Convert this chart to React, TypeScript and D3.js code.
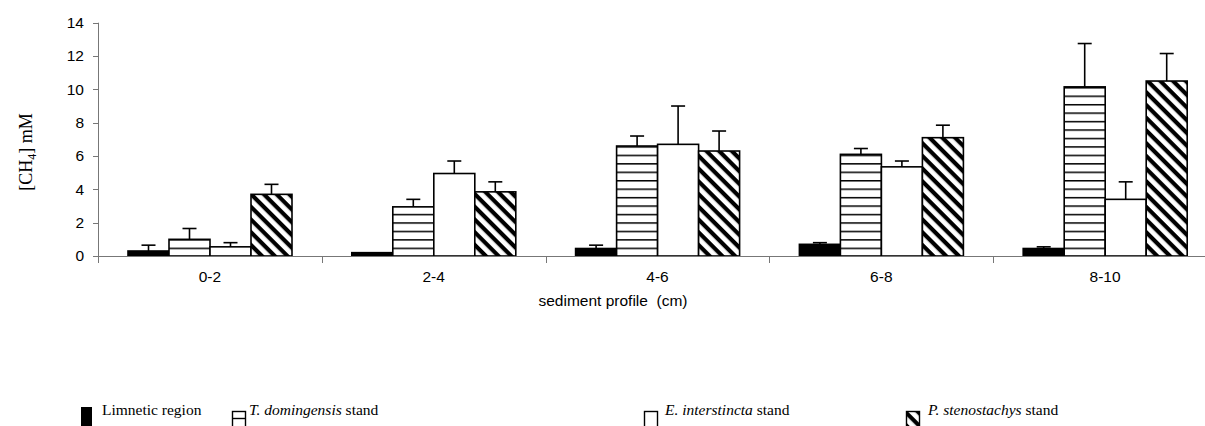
import React, { useRef, useEffect } from 'react';
import * as d3 from 'd3';

const categories = ['0-2', '2-4', '4-6', '6-8', '8-10'];
const seriesNames = ['Limnetic region', 'T. domingensis stand', 'E. interstincta stand', 'P. stenostachys stand'];

// mean [CH4] mM per depth
const limnetic = [0.3, 0.2, 0.45, 0.7, 0.45];
const typha = [1.0, 2.95, 6.6, 6.1, 10.15];
const eleocharis = [0.55, 4.95, 6.7, 5.35, 3.4];
const panicum = [3.7, 3.85, 6.3, 7.1, 10.5];

// standard deviations (upper bars only)
const limneticSd = [0.35, 0, 0.2, 0.1, 0.1];
const typhaSd = [0.65, 0.45, 0.6, 0.35, 2.6];
const eleocharisSd = [0.25, 0.75, 2.3, 0.35, 1.05];
const panicumSd = [0.6, 0.6, 1.2, 0.75, 1.65];

const yTicks = [0, 2, 4, 6, 8, 10, 12, 14];

const W = 1205;
const H = 426;

function Chart() {
  const svgRef = useRef<SVGSVGElement>(null);

  useEffect(() => {
    const svg = d3.select(svgRef.current);
    svg.selectAll('*').remove();

    const means = [limnetic, typha, eleocharis, panicum];
    const sds = [limneticSd, typhaSd, eleocharisSd, panicumSd];
    const fills = ['#000', 'url(#horiz)', '#fff', 'url(#diag)'];

    const x0 = d3.scaleBand().domain(categories).range([98, 98 + 5 * 223.8]).padding(0);
    const x1 = d3.scaleBand<number>().domain([0, 1, 2, 3]).range([30, 194]).padding(0);
    const y = d3.scaleLinear().domain([0, 14]).range([256, 22.7]);

    // patterns
    const defs = svg.append('defs');
    const ph = defs.append('pattern')
      .attr('id', 'horiz')
      .attr('patternUnits', 'userSpaceOnUse')
      .attr('width', 8)
      .attr('height', 8.45)
      .attr('y', 256 - 7.7 - 0.7);
    ph.append('rect').attr('width', 8).attr('height', 8.45).attr('fill', '#fff');
    ph.append('rect').attr('y', 0).attr('width', 8).attr('height', 1.5).attr('fill', '#000');

    const pd = defs.append('pattern')
      .attr('id', 'diag')
      .attr('patternUnits', 'userSpaceOnUse')
      .attr('width', 9)
      .attr('height', 9)
      .attr('patternTransform', 'rotate(45)');
    pd.append('rect').attr('width', 9).attr('height', 9).attr('fill', '#fff');
    pd.append('rect').attr('width', 9).attr('height', 4.2).attr('fill', '#000');

    // y axis
    const axisColor = '#777';
    svg.append('line')
      .attr('x1', 98.5).attr('x2', 98.5)
      .attr('y1', y(14)).attr('y2', 263)
      .attr('stroke', axisColor).attr('stroke-width', 1);

    const yt = svg.append('g');
    yt.selectAll('line').data(yTicks).enter().append('line')
      .attr('x1', 93).attr('x2', 98.5)
      .attr('y1', d => Math.round(y(d)) + 0.5).attr('y2', d => Math.round(y(d)) + 0.5)
      .attr('stroke', axisColor);
    yt.selectAll('text').data(yTicks).enter().append('text')
      .attr('x', 84).attr('y', d => y(d))
      .attr('dy', '0.35em')
      .attr('text-anchor', 'end')
      .attr('font-family', 'Liberation Sans, Arial, sans-serif')
      .attr('font-size', 15.5)
      .text(d => d);

    // category ticks
    svg.selectAll('.ctick').data(categories.slice(1)).enter().append('line')
      .attr('class', 'ctick')
      .attr('x1', d => Math.round(x0(d)!) + 0.5).attr('x2', d => Math.round(x0(d)!) + 0.5)
      .attr('y1', 256).attr('y2', 263)
      .attr('stroke', axisColor);

    // bars
    const groups = svg.selectAll('.grp').data(categories).enter().append('g')
      .attr('class', 'grp')
      .attr('transform', d => `translate(${x0(d)},0)`);

    means.forEach((vals, s) => {
      groups.append('rect')
        .attr('x', () => x1(s)!)
        .attr('y', (_d, i) => y(vals[i]))
        .attr('width', x1.bandwidth())
        .attr('height', (_d, i) => y(0) - y(vals[i]))
        .attr('fill', fills[s])
        .attr('stroke', '#000')
        .attr('stroke-width', 1.6);
    });

    means.forEach((vals, s) => {
      const cx = x1(s)! + x1.bandwidth() / 2;
      groups.each(function (_d, i) {
        if (sds[s][i] <= 0) return;
        const g = d3.select(this);
        const top = y(vals[i] + sds[s][i]);
        g.append('line')
          .attr('x1', cx).attr('x2', cx)
          .attr('y1', y(vals[i])).attr('y2', top)
          .attr('stroke', '#000').attr('stroke-width', 1.6);
        g.append('line')
          .attr('x1', cx - 7).attr('x2', cx + 7)
          .attr('y1', top).attr('y2', top)
          .attr('stroke', '#000').attr('stroke-width', 1.6);
      });
    });

    // x axis line
    svg.append('line')
      .attr('x1', 98).attr('x2', W)
      .attr('y1', 256.5).attr('y2', 256.5)
      .attr('stroke', axisColor);

    // category labels
    svg.selectAll('.clab').data(categories).enter().append('text')
      .attr('class', 'clab')
      .attr('x', d => x0(d)! + x0.bandwidth() / 2)
      .attr('y', 282)
      .attr('text-anchor', 'middle')
      .attr('font-family', 'Liberation Sans, Arial, sans-serif')
      .attr('font-size', 15.5)
      .text(d => d);

    svg.append('text')
      .attr('x', 613).attr('y', 306)
      .attr('text-anchor', 'middle')
      .attr('font-family', 'Liberation Sans, Arial, sans-serif')
      .attr('font-size', 15.5)
      .style('white-space', 'pre')
      .text('sediment profile  (cm)');

    // y title
    const yl = svg.append('text')
      .attr('transform', 'translate(32,152) rotate(-90)')
      .attr('text-anchor', 'middle')
      .attr('font-family', 'Liberation Serif, Times New Roman, serif')
      .attr('font-size', 18);
    yl.append('tspan').text('[CH');
    yl.append('tspan').attr('font-size', 12).attr('dy', 4).text('4');
    yl.append('tspan').attr('dy', -4).text('] mM');

    // legend (symbols run off the bottom edge, as in the original)
    const legX = [81, 232, 644, 906];
    const textX = [102, 249, 665, 928];
    const lg = svg.append('g');
    seriesNames.forEach((name, s) => {
      if (s === 0) {
        lg.append('rect').attr('x', legX[s]).attr('y', 407).attr('width', 11).attr('height', 22).attr('fill', '#000');
      } else {
        lg.append('rect').attr('x', legX[s] + 0.5).attr('y', 411.5).attr('width', 13).attr('height', 20)
          .attr('fill', s === 3 ? 'url(#diag)' : '#fff')
          .attr('stroke', '#000').attr('stroke-width', 1.4);
        if (s === 1) {
          lg.append('line').attr('x1', legX[s]).attr('x2', legX[s] + 14)
            .attr('y1', 418.5).attr('y2', 418.5).attr('stroke', '#000').attr('stroke-width', 1.4);
        }
      }
      const t = lg.append('text')
        .attr('x', textX[s]).attr('y', 415)
        .attr('font-family', 'Liberation Serif, Times New Roman, serif')
        .attr('font-size', 15.5);
      if (s === 0) {
        t.text(name);
      } else {
        const parts = name.split(' stand');
        t.append('tspan').attr('font-style', 'italic').text(parts[0]);
        t.append('tspan').text(' stand');
      }
    });
  }, []);

  return <svg ref={svgRef} width={W} height={H} style={{ display: 'block' }} />;
}

export default function App() {
  return (
    <div style={{ position: 'absolute', left: 0, top: 0, width: W, height: H, background: '#fff' }}>
      <Chart />
    </div>
  );
}
